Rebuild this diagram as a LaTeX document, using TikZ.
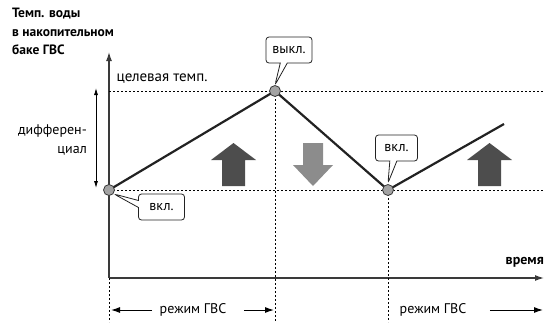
\documentclass[tikz,border=0pt]{standalone}
\usepackage{fontspec}
\setmainfont{PT Sans}
\usetikzlibrary{positioning, arrows.meta, calc, shapes.callouts}
\definecolor{inkdark}{HTML}{222222}
\definecolor{axisgray}{HTML}{3a3a3a}
\definecolor{heatup}{HTML}{4d4d4d}
\definecolor{cooldown}{HTML}{8c8c8c}
\definecolor{dotfill}{HTML}{a3a3a3}

\begin{document}
\begin{tikzpicture}[
  x=1pt, y=-1pt,
  font=\fontsize{14}{16}\selectfont,
  axis/.style={line width=1.3pt, axisgray, -{Latex[length=9pt,width=6pt]}},
  guide/.style={line width=0.8pt, black, dash pattern=on 2pt off 2pt},
  curve/.style={line width=2.2pt, inkdark, line join=round},
  dot/.style={circle, draw=axisgray, fill=dotfill, line width=0.8pt, inner sep=0pt, minimum size=11pt},
  callbox/.style={rectangle callout, draw=inkdark, fill=white, rounded corners=3pt,
                  line width=0.8pt, minimum height=26pt, minimum width=46pt, inner xsep=6pt,
                  callout pointer width=7pt},
  modearr/.style={line width=1pt, black, -{Latex[length=9pt,width=6pt]}},
  fatup/.pic={\fill (-11.5,0) -- (-11.5,-26) -- (-22.5,-26) -- (0,-43)
               -- (22.5,-26) -- (11.5,-26) -- (11.5,0) -- cycle;},
  fatdown/.pic={\fill (-10,0) -- (-10,22) -- (-20,22) -- (0,43)
               -- (20,22) -- (10,22) -- (10,0) -- cycle;},
]
  \useasboundingbox (0,0) rectangle (544,322);

  % key points of the curve
  \coordinate (origin) at (109,278);
  \coordinate (start) at (109,190);
  \coordinate (peak) at (275,91);
  \coordinate (low) at (388,190);
  \coordinate (last) at (504,124);
  \coordinate (ytop) at (109,52);
  \coordinate (xend) at (544,278);

  % axes
  \draw[axis] (origin) -- (ytop);
  \draw[axis] (origin) -- (xend);
  \node[font=\fontsize{14}{16}\selectfont\bfseries, anchor=east, inner xsep=0pt] (time) at (544,262) {время};
  \node[font=\fontsize{13.5}{18.5}\selectfont\bfseries, align=left, anchor=north west, inner sep=0pt]
    (ylabel) at (12,8) {Темп. воды\\в накопительном\\баке ГВС};

  % target temperature and differential
  \draw[guide] (109,91) -- (544,91);
  \draw[guide] (start) -- (544,190);
  \node[anchor=west, font=\fontsize{15}{17}\selectfont] (target) at (113,79) {целевая темп.};
  \draw[line width=0.8pt, {Latex[length=7pt,width=4pt]}-{Latex[length=7pt,width=4pt]}] (96,88) -- (96,188);
  \node[align=right, anchor=east, font=\fontsize{14}{19}\selectfont, inner xsep=0pt] (diff) at (87,140) {дифферен-\\циал};

  % switching instants
  \draw[guide] (origin) -- (109,322);
  \draw[guide] (peak) -- (275,322);
  \draw[guide] (low) -- (388,322);

  % tank temperature
  \draw[curve] (start) -- (peak) -- (low) -- (last);
  \node[dot] (dstart) at (start) {};
  \node[dot] (dpeak) at (peak) {};
  \node[dot] (dlow) at (low) {};

  % heating / cooling
  \pic[heatup] at (233.5,186) {fatup};
  \pic[cooldown] at (313,143) {fatdown};
  \pic[heatup] at (489.5,186) {fatup};

  % callouts
  \coordinate (tipstart) at (114,194);
  \coordinate (tippeak) at (275,85);
  \coordinate (tiplow) at (388,183);
  \node[callbox, callout absolute pointer={(tipstart)}] (on1) at (161.5,207) {вкл.};
  \node[callbox, callout absolute pointer={(tippeak)}] (off) at (289,50) {выкл.};
  \node[callbox, minimum width=42pt, callout absolute pointer={(tiplow)}] (on2) at (396.5,148) {вкл.};

  % DHW mode spans
  \coordinate (b0) at (111,310);
  \coordinate (b1) at (274,310);
  \coordinate (b3) at (543,310);
  \node (mode1) at (193,310) {режим ГВС};
  \node (mode2) at (433,310) {режим ГВС};
  \draw[modearr] ([xshift=-4pt]mode1.west) -- (b0);
  \draw[modearr] ([xshift=14pt]mode1.east) -- (b1);
  \draw[modearr] ([xshift=20pt]mode2.east) -- (b3);
\end{tikzpicture}
\end{document}
